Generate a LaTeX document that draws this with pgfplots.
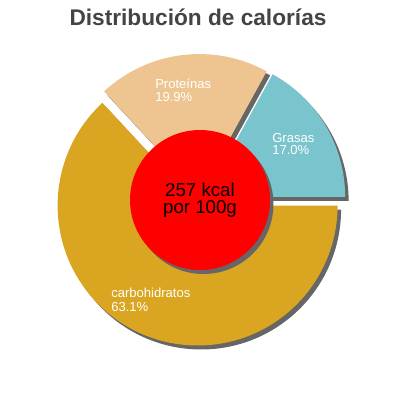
\documentclass[border=0pt]{standalone}
\usepackage{pgfplots}
\pgfplotsset{compat=1.18}
\usetikzlibrary{calc}
\usepackage{fontspec}
\setmainfont{Liberation Sans}

\definecolor{carbo}{HTML}{DAA520}
\definecolor{prot}{HTML}{EEC591}
\definecolor{gras}{HTML}{7AC5CD}
\definecolor{shadowgray}{HTML}{666666}
\definecolor{titlegray}{HTML}{444444}

% percentages of the calories
\def\vGras{17.0}
\def\vProt{19.9}
\def\vCarb{63.1}

% one slice: start angle, end angle, colour (1px = 0.75pt)
\newcommand\slice[3]{%
  \fill[shadowgray] ($(axis cs:200,200)+({(#1+#2)/2}:4.5pt)+(2.6pt,-3pt)$)
    -- ++(#1:105pt) arc[start angle=#1,end angle=#2,radius=105pt] -- cycle;}
\newcommand\slicetop[3]{%
  \fill[#3] ($(axis cs:200,200)+({(#1+#2)/2}:4.5pt)$)
    -- ++(#1:105pt) arc[start angle=#1,end angle=#2,radius=105pt] -- cycle;}

\begin{document}
\begin{tikzpicture}
\pgfmathsetmacro{\aG}{\vGras*3.6}
\pgfmathsetmacro{\aP}{\aG+\vProt*3.6}
\pgfmathsetmacro{\aC}{\aP+\vCarb*3.6}
\begin{axis}[
  width=300pt, height=300pt, scale only axis,
  xmin=0, xmax=400, ymin=0, ymax=400, y dir=reverse,
  hide axis, clip=false,
]
\path (rel axis cs:0,0) rectangle (rel axis cs:1,1);
% shadows
\slice{0}{\aG}{gras}
\slice{\aG}{\aP}{prot}
\slice{\aP}{\aC}{carbo}
% slices
\slicetop{0}{\aG}{gras}
\slicetop{\aG}{\aP}{prot}
\slicetop{\aP}{\aC}{carbo}
% centre
\fill[shadowgray] ($(axis cs:200,200)+(2.6pt,-3pt)$) circle[radius=52.5pt];
\fill[red] (axis cs:200,200) circle[radius=52.5pt];

\node[anchor=base,font=\fontsize{14}{16}\selectfont] at (axis cs:200,196) {257 kcal};
\node[anchor=base,font=\fontsize{14}{16}\selectfont] at (axis cs:200,213) {por 100g};

\node[anchor=base,font=\fontsize{17}{20}\selectfont\bfseries,text=titlegray] at (axis cs:198,25) {Distribución de calorías};

\tikzset{lab/.style={anchor=base west,inner sep=0pt,text=white,font=\fontsize{9.8}{11}\selectfont}}
\node[lab] at (axis cs:155,88.5) {Proteínas};
\node[lab] at (axis cs:155,101) {19.9\%};
\node[lab] at (axis cs:272,142.5) {Grasas};
\node[lab] at (axis cs:272,154) {17.0\%};
\node[lab] at (axis cs:111,297.5) {carbohidratos};
\node[lab] at (axis cs:111,311) {63.1\%};
\end{axis}
\end{tikzpicture}
\end{document}
